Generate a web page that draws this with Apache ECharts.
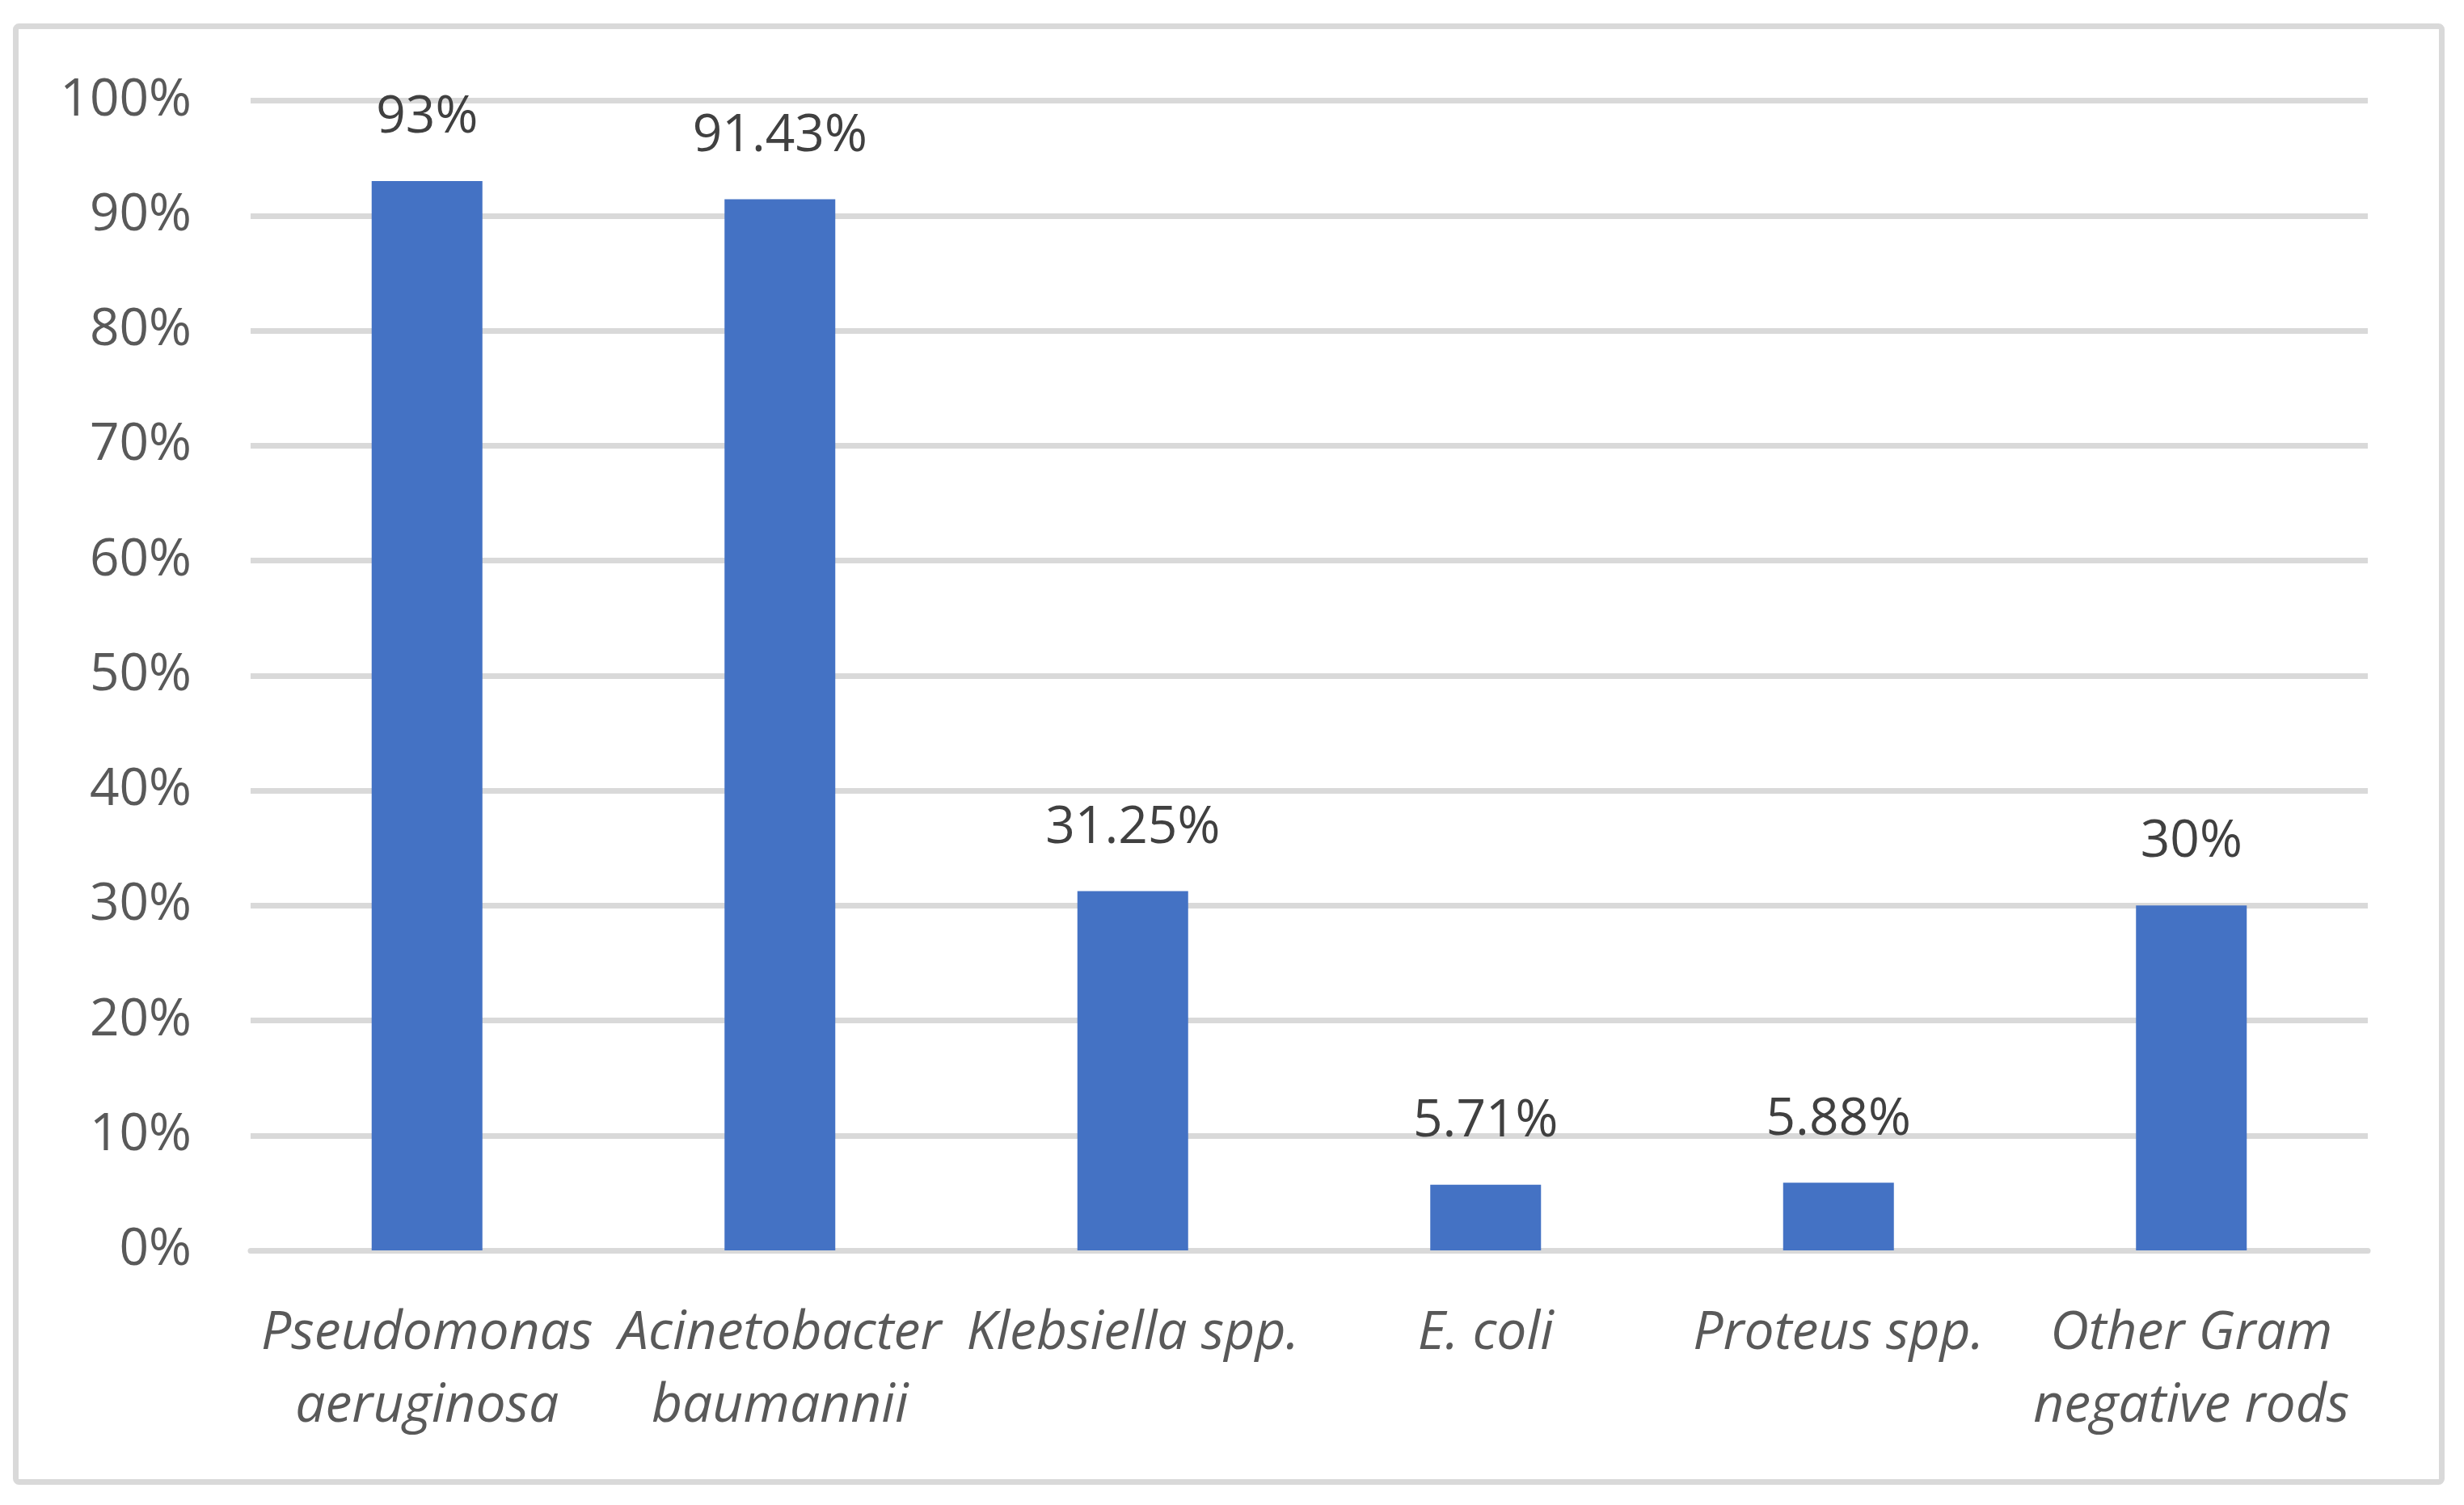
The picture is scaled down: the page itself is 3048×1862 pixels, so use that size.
<!DOCTYPE html>
<html>
<head>
<meta charset="utf-8">
<script src="https://cdn.jsdelivr.net/npm/echarts@6/dist/echarts.min.js"></script>
<style>
html,body{margin:0;padding:0;background:#fff;}
#chart{width:3048px;height:1862px;}
</style>
</head>
<body>
<div id="chart"></div>
<script>
const categories = ["Pseudomonas\naeruginosa", "Acinetobacter\nbaumannii", "Klebsiella spp.", "E. coli", "Proteus spp.", "Other Gram\nnegative rods"];
const values = [93, 91.43, 31.25, 5.71, 5.88, 30];
const yTicks = [0, 10, 20, 30, 40, 50, 60, 70, 80, 90, 100];

const FONT = '"Open Sans", "Noto Sans", sans-serif';
const chart = echarts.init(document.getElementById('chart'), null, {renderer: 'canvas'});
chart.setOption({
  animation: false,
  backgroundColor: '#ffffff',
  textStyle: {fontFamily: FONT},
  graphic: [{
    type: 'rect',
    shape: {x: 19.5, y: 32.5, width: 3001, height: 1801, r: 4},
    style: {fill: 'none', stroke: '#d9d9d9', lineWidth: 7},
    silent: true,
    z: -10
  }],
  grid: {left: 310, right: 119, top: 124.5, bottom: 315, containLabel: false},
  xAxis: {
    type: 'category',
    data: categories,
    axisTick: {show: false},
    axisLine: {show: true, lineStyle: {color: '#d9d9d9', width: 7}},
    axisLabel: {
      interval: 0,
      fontFamily: FONT,
      fontStyle: 'italic',
      fontSize: 66,
      lineHeight: 90,
      color: '#595959',
      margin: 58,
      align: 'center'
    }
  },
  yAxis: {
    type: 'value',
    min: yTicks[0],
    max: yTicks[yTicks.length - 1],
    interval: 10,
    axisLine: {show: false},
    axisTick: {show: false},
    splitLine: {show: true, lineStyle: {color: '#d9d9d9', width: 7}},
    axisLabel: {
      formatter: '{value}%',
      fontFamily: FONT,
      fontSize: 64,
      color: '#595959',
      margin: 73
    }
  },
  series: [{
    type: 'bar',
    data: values,
    barWidth: 137,
    itemStyle: {color: '#4472C4'},
    label: {
      show: true,
      position: 'top',
      distance: 46,
      formatter: '{c}%',
      fontFamily: FONT,
      fontSize: 64,
      color: '#404040'
    }
  }]
});
</script>
</body>
</html>
